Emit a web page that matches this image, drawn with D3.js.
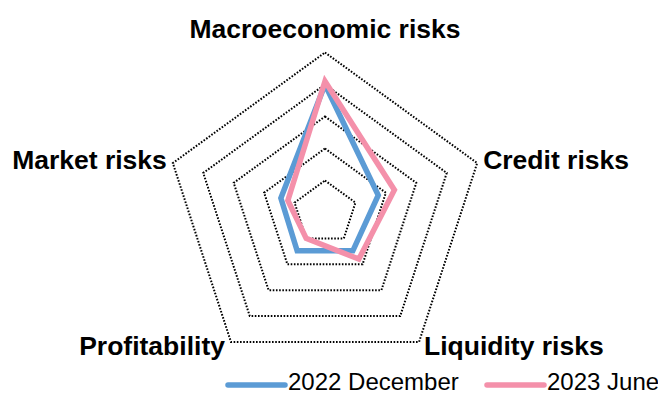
<!DOCTYPE html>
<html>
<head>
<meta charset="utf-8">
<script src="https://cdn.jsdelivr.net/npm/d3@7"></script>
<style>
  html, body { margin: 0; padding: 0; background: #fff; }
  svg { display: block; }
  text { font-family: "Liberation Sans", Arial, sans-serif; fill: #000; }
</style>
</head>
<body>
<svg id="chart" width="658" height="394"></svg>
<script>
// Risk dimensions, clockwise from the top
const categories = ["Macroeconomic risks", "Credit risks", "Liquidity risks", "Profitability", "Market risks"];
const seriesNames = ["2022 December", "2023 June"];
const dec2022 = [4.0, 1.75, 1.48, 1.48, 1.45];
const jun2023 = [4.1, 2.28, 1.8, 1.0, 1.22];
const gridLevels = [1, 2, 3, 4, 5];
const colors = ["#5b9bd5", "#f490aa"];

const svg = d3.select("#chart");
const cx = 325, cy = 212.5, R = 160;
const r = d3.scaleLinear().domain([0, 5]).range([0, R]);
const angle = d3.scaleLinear().domain([0, categories.length]).range([0, 2 * Math.PI]);

const pt = (i, v) => {
  const a = angle(i);
  return [cx + r(v) * Math.sin(a), cy - r(v) * Math.cos(a)];
};

const radial = d3.line().curve(d3.curveLinearClosed);

// Dotted pentagon grid
svg.append("g").selectAll("path")
  .data(gridLevels)
  .join("path")
  .attr("d", lv => radial(categories.map((_, i) => pt(i, lv))))
  .attr("fill", "none")
  .attr("stroke", "#000")
  .attr("stroke-width", 2)
  .attr("stroke-dasharray", "1.6,1.6");

// Series outlines
const series = [dec2022, jun2023];
svg.append("g").selectAll("path")
  .data(series)
  .join("path")
  .attr("d", vals => radial(vals.map((v, i) => pt(i, v))))
  .attr("fill", "none")
  .attr("stroke", (d, k) => colors[k])
  .attr("stroke-width", 5.5)
  .attr("stroke-linejoin", "miter");

// Axis labels around the outer ring
const labelLayout = [
  { dx: 0, dy: -15, anchor: "middle" },
  { dx: 6, dy: 6, anchor: "start" },
  { dx: 5, dy: 13, anchor: "start" },
  { dx: -6, dy: 13, anchor: "end" },
  { dx: -6, dy: 6, anchor: "end" }
];
svg.append("g").selectAll("text")
  .data(categories)
  .join("text")
  .attr("x", (d, i) => pt(i, 5)[0] + labelLayout[i].dx)
  .attr("y", (d, i) => pt(i, 5)[1] + labelLayout[i].dy)
  .attr("text-anchor", (d, i) => labelLayout[i].anchor)
  .attr("font-size", 26.5)
  .attr("font-weight", "bold")
  .text(d => d);

// Legend
const legendX = [228, 487];
const legendY = 385;
const lg = svg.append("g").selectAll("g")
  .data(seriesNames)
  .join("g")
  .attr("transform", (d, k) => `translate(${legendX[k]},${legendY})`);
lg.append("line")
  .attr("x1", 0).attr("x2", 57)
  .attr("y1", 0).attr("y2", 0)
  .attr("stroke", (d, k) => colors[k])
  .attr("stroke-width", 5.5)
  .attr("stroke-linecap", "round");
lg.append("text")
  .attr("x", 60)
  .attr("y", 5)
  .attr("font-size", 24)
  .text(d => d);
</script>
</body>
</html>
